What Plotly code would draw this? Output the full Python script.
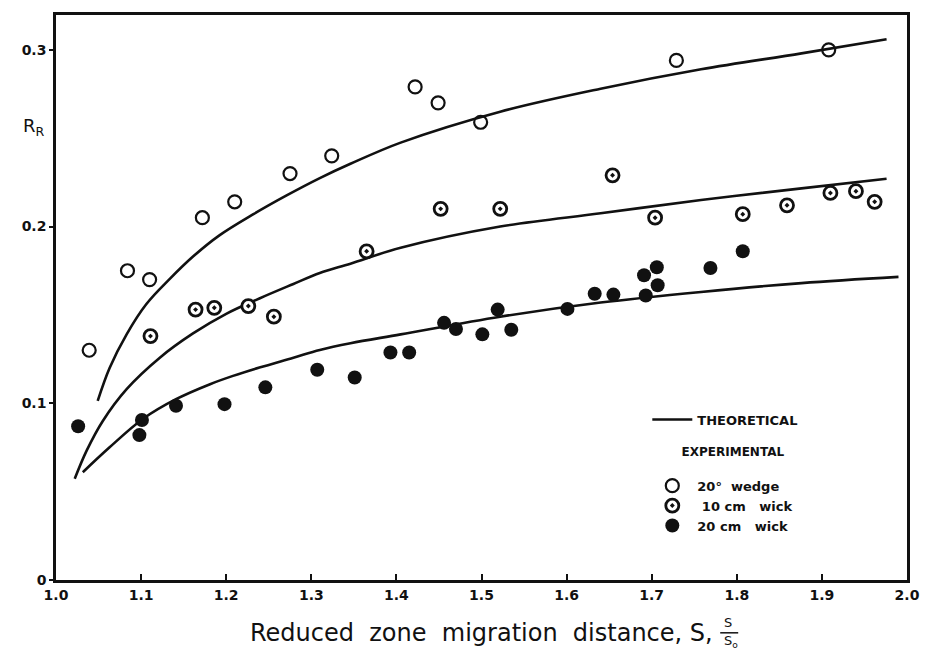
import plotly.graph_objects as go

# ---- data ----
theo_wedge_x = [1.049, 1.063, 1.083, 1.106, 1.134, 1.161, 1.192, 1.232, 1.271, 1.310, 1.346, 1.405, 1.522, 1.640, 1.758, 1.876, 1.976]
theo_wedge_y = [0.1014, 0.120, 0.139, 0.156, 0.1705, 0.183, 0.195, 0.207, 0.2176, 0.2274, 0.2355, 0.2475, 0.265, 0.278, 0.289, 0.298, 0.306]

theo_10_x = [1.022, 1.036, 1.055, 1.083, 1.122, 1.161, 1.200, 1.239, 1.279, 1.310, 1.346, 1.405, 1.522, 1.640, 1.758, 1.876, 1.976]
theo_10_y = [0.0573, 0.0732, 0.090, 0.108, 0.1258, 0.1395, 0.1506, 0.1593, 0.1675, 0.1737, 0.179, 0.188, 0.200, 0.2075, 0.215, 0.2216, 0.227]

theo_20_x = [1.0315, 1.063, 1.102, 1.141, 1.181, 1.208, 1.239, 1.279, 1.310, 1.346, 1.405, 1.522, 1.640, 1.758, 1.876, 1.990]
theo_20_y = [0.061, 0.0751, 0.0911, 0.1023, 0.1108, 0.1155, 0.1202, 0.1258, 0.1302, 0.134, 0.139, 0.149, 0.157, 0.163, 0.168, 0.1715]

wedge_x = [1.039, 1.084, 1.110, 1.172, 1.210, 1.275, 1.324, 1.422, 1.449, 1.499, 1.729, 1.908]
wedge_y = [0.130, 0.175, 0.170, 0.205, 0.214, 0.230, 0.240, 0.279, 0.270, 0.259, 0.294, 0.300]

wick10_x = [1.111, 1.164, 1.186, 1.226, 1.256, 1.365, 1.452, 1.522, 1.654, 1.704, 1.807, 1.859, 1.910, 1.940, 1.962]
wick10_y = [0.138, 0.153, 0.154, 0.155, 0.149, 0.186, 0.210, 0.210, 0.229, 0.205, 0.207, 0.212, 0.219, 0.220, 0.214]

wick20_x = [1.026, 1.101, 1.098, 1.141, 1.198, 1.246, 1.307, 1.351, 1.393, 1.415, 1.456, 1.470, 1.501, 1.519,
            1.535, 1.601, 1.633, 1.655, 1.693, 1.707, 1.691, 1.706, 1.769, 1.807]
wick20_y = [0.087, 0.0905, 0.082, 0.0986, 0.0995, 0.109, 0.119, 0.1146, 0.1287, 0.1287, 0.1455, 0.142, 0.139, 0.153,
            0.1416, 0.1534, 0.162, 0.1615, 0.161, 0.1668, 0.1724, 0.177, 0.1765, 0.186]

x_tick_vals = [1.0, 1.1, 1.2, 1.3, 1.4, 1.5, 1.6, 1.7, 1.8, 1.9, 2.0]
x_tick_text = ["1.0", "1.1", "1.2", "1.3", "1.4", "1.5", "1.6", "1.7", "1.8", "1.9", "2.0"]
y_tick_vals = [0, 0.1, 0.2, 0.3]
y_tick_text = ["0", "0.1", "0.2", "0.3"]

FONT = "DejaVu Sans"
BLACK = "#111111"
NB = "\u00a0"

fig = go.Figure()

curves = [(theo_wedge_x, theo_wedge_y), (theo_10_x, theo_10_y), (theo_20_x, theo_20_y)]
for i, (cx, cy) in enumerate(curves):
    fig.add_trace(go.Scatter(
        x=cx, y=cy, mode="lines", line=dict(color=BLACK, width=2.6, shape="spline", smoothing=1.0),
        name="THEORETICAL", legendgroup="theo", showlegend=(i == 0), hoverinfo="skip"))

fig.add_trace(go.Scatter(
    x=wedge_x, y=wedge_y, mode="markers", name="20°" + NB * 2 + "wedge", legendgroup="exp",
    legendgrouptitle=dict(text=NB * 7 + "EXPERIMENTAL<br>" + NB,
                          font=dict(family=FONT, size=12, color=BLACK, weight="bold")),
    marker=dict(symbol="circle-open", size=13, color=BLACK, line=dict(width=2.2, color=BLACK))))
fig.add_trace(go.Scatter(
    x=wick10_x, y=wick10_y, mode="markers", name=NB + "10" + NB + "cm" + NB * 3 + "wick", legendgroup="exp",
    marker=dict(symbol="circle-dot", size=13, color="white", line=dict(width=2.8, color=BLACK))))
fig.add_trace(go.Scatter(
    x=wick20_x, y=wick20_y, mode="markers", name="20" + NB + "cm" + NB * 3 + "wick", legendgroup="exp",
    marker=dict(symbol="circle", size=14, color=BLACK, line=dict(width=0))))

fig.update_xaxes(
    range=[1.0, 2.0], tickvals=x_tick_vals, ticktext=x_tick_text,
    showline=True, linewidth=2.5, linecolor=BLACK, mirror=True,
    ticks="inside", ticklen=6, tickwidth=1.5, tickcolor=BLACK,
    showgrid=False, zeroline=False,
    tickfont=dict(family=FONT, size=14, color=BLACK, weight="bold"))
fig.update_yaxes(
    range=[0, 0.3197], tickvals=y_tick_vals, ticktext=y_tick_text,
    showline=True, linewidth=2.5, linecolor=BLACK, mirror=True,
    ticks="outside", ticklen=4, tickwidth=1.5, tickcolor=BLACK,
    showgrid=False, zeroline=False,
    tickfont=dict(family=FONT, size=14, color=BLACK, weight="bold"))

W, H = 932, 649
L, R, T, B = 56, 24, 13, 69
pw, ph = W - L - R, H - T - B

def px(xp):
    return (xp - L) / pw

def py(yp):
    return (H - B - yp) / ph

title_text = ("Reduced" + NB * 2 + "zone" + NB * 2 + "migration" + NB * 2 + "distance," + NB + "S,")
fig.add_annotation(text=title_text, xref="paper", yref="paper",
                   x=px(248), y=py(633), xanchor="left", yanchor="middle", showarrow=False,
                   font=dict(family=FONT, size=24, color=BLACK))
fig.add_annotation(text="S", xref="paper", yref="paper", x=px(729), y=py(623), xanchor="center",
                   yanchor="middle", showarrow=False, font=dict(family=FONT, size=13, color=BLACK))
fig.add_annotation(text="S<sub>o</sub>", xref="paper", yref="paper", x=px(732), y=py(642), xanchor="center",
                   yanchor="middle", showarrow=False, font=dict(family=FONT, size=13, color=BLACK))
fig.add_shape(type="line", xref="paper", yref="paper", x0=px(721), x1=px(739), y0=py(633), y1=py(633),
              line=dict(color=BLACK, width=1.5))
fig.add_annotation(text="R<sub>R</sub>", xref="paper", yref="paper", x=px(34), y=py(125), xanchor="center",
                   yanchor="middle", showarrow=False, font=dict(family=FONT, size=18, color=BLACK))

fig.update_layout(
    width=W, height=H, margin=dict(l=L, r=R, t=T, b=B),
    plot_bgcolor="white", paper_bgcolor="white",
    showlegend=True,
    legend=dict(x=px(648), y=py(404), xanchor="left", yanchor="top", bgcolor="rgba(0,0,0,0)",
                traceorder="grouped", tracegroupgap=12, itemwidth=40,
                font=dict(family=FONT, size=13, color=BLACK, weight="bold")),
)

fig.write_html("out.html")
